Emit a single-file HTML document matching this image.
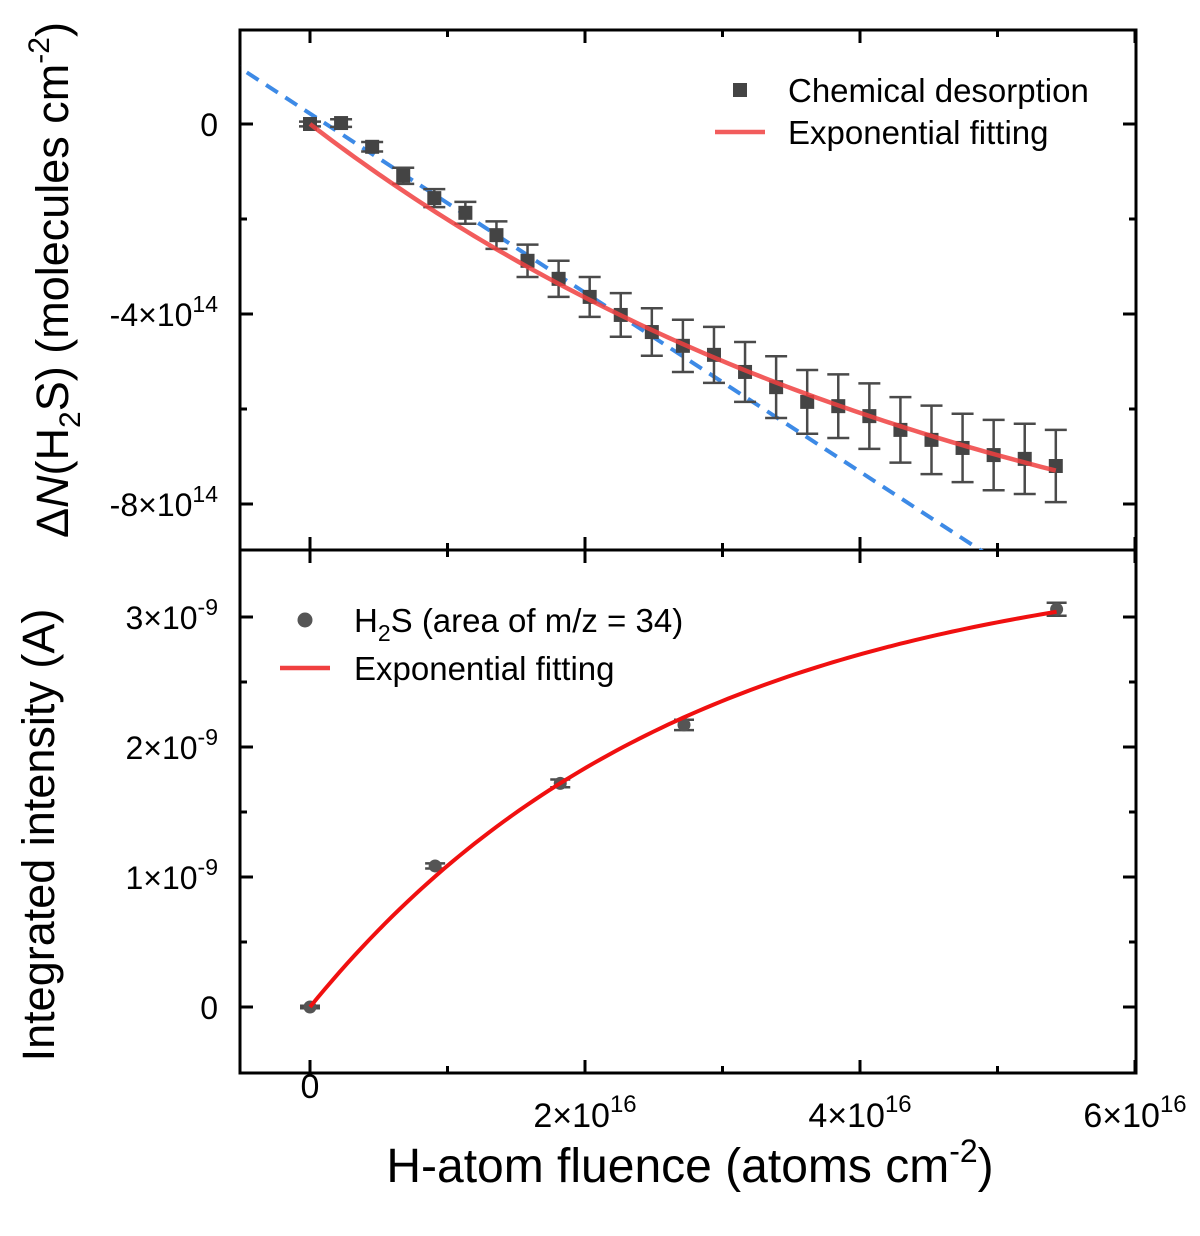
<!DOCTYPE html>
<html><head><meta charset="utf-8"><style>
body{margin:0;background:#fff}
svg text{font-family:"Liberation Sans",Arial,sans-serif;fill:#000}
</style></head><body>
<svg id="c" width="1200" height="1231" xmlns="http://www.w3.org/2000/svg">
<g id="g"></g>
</svg>
<script>
// top panel data (x in 1e16, y in 1e14)
const topX=[0,0.226,0.452,0.678,0.904,1.13,1.356,1.582,1.808,2.034,2.26,2.486,2.712,2.938,3.164,3.39,3.616,3.842,4.068,4.294,4.52,4.746,4.972,5.198,5.424];
const topY=[0,0.02,-0.48,-1.09,-1.56,-1.87,-2.34,-2.88,-3.26,-3.64,-4.02,-4.38,-4.67,-4.86,-5.22,-5.54,-5.85,-5.94,-6.15,-6.44,-6.65,-6.82,-6.97,-7.05,-7.2];
const topErr=[0.05,0.08,0.1,0.17,0.19,0.23,0.29,0.34,0.38,0.42,0.46,0.5,0.55,0.59,0.63,0.65,0.67,0.67,0.69,0.69,0.72,0.72,0.74,0.74,0.76];
const topFit=[10.9,4.9]; // amplitude, tau
const linParams=[0.22,-1.885]; // intercept, slope
// bottom panel (x in 1e16, y in 1e-9)
const botX=[0,0.91,1.82,2.72,5.43];
const botY=[0,1.085,1.72,2.17,3.06];
const botErr=[0.01,0.02,0.03,0.04,0.05];
const botFit=[3.51,2.7];
const xTicks=[0,2,4,6], topTicks=[0,-4,-8], botTicks=[0,1,2,3];

const NS='http://www.w3.org/2000/svg', g=document.getElementById('g');
function el(t,a,p){const e=document.createElementNS(NS,t);for(const k in a)e.setAttribute(k,a[k]);(p||g).appendChild(e);return e;}
const L=240,R=1136,T=30,M=550,B=1073;
const X=v=>310+v*137.5;
const YT=v=>124-v*47.5;
const YB=v=>1007-v*130;

const defs=el('defs',{});
let cp=el('clipPath',{id:'ct'},defs);el('rect',{x:L,y:T,width:R-L,height:M-T},cp);
cp=el('clipPath',{id:'cb'},defs);el('rect',{x:L,y:M,width:R-L,height:B-M},cp);

let e=el('rect',{x:L,y:T,width:R-L,height:M-T,fill:'none',stroke:'#000','stroke-width':3});

e=el('rect',{x:L,y:M,width:R-L,height:B-M,fill:'none',stroke:'#000','stroke-width':3});


for(let v=0;v<=6;v+=1){const x=X(v),len=v%2===0?13:7;
 el('line',{x1:x,x2:x,y1:B,y2:B-len,stroke:'#000','stroke-width':3});
 el('line',{x1:x,x2:x,y1:M,y2:M-len,stroke:'#000','stroke-width':3});
 el('line',{x1:x,x2:x,y1:M,y2:M+len,stroke:'#000','stroke-width':3});
 el('line',{x1:x,x2:x,y1:T,y2:T+len,stroke:'#000','stroke-width':3});}
xTicks.forEach(v=>{const t=el('text',{x:X(v),y:v===0?1098:1127,'font-size':34,'text-anchor':'middle'});
 
 if(v===0)t.textContent='0';else t.innerHTML=v+'×10<tspan dy="-15" font-size="24">16</tspan>';});
for(let v=0;v>=-8;v-=2){const y=YT(v),len=v%4===0?13:7;
 el('line',{x1:L,x2:L+len,y1:y,y2:y,stroke:'#000','stroke-width':3});
 el('line',{x1:R,x2:R-len,y1:y,y2:y,stroke:'#000','stroke-width':3});}
topTicks.forEach(v=>{const t=el('text',{x:218,y:YT(v)+12,'font-size':32,'text-anchor':'end'});
 
 if(v===0)t.textContent='0';else t.innerHTML=v+'×10<tspan dy="-14" font-size="23">14</tspan>';});
for(let v=0;v<=3.01;v+=0.5){const y=YB(v),len=Math.abs(v%1)<0.01?13:7;
 el('line',{x1:L,x2:L+len,y1:y,y2:y,stroke:'#000','stroke-width':3});
 el('line',{x1:R,x2:R-len,y1:y,y2:y,stroke:'#000','stroke-width':3});}
botTicks.forEach(v=>{const t=el('text',{x:218,y:YB(v)+12,'font-size':32,'text-anchor':'end'});
 
 if(v===0)t.textContent='0';else t.innerHTML=v+'×10<tspan dy="-14" font-size="23">-9</tspan>';});

const gt=el('g',{'clip-path':'url(#ct)'});
const x0=-0.6,x1=5.5;
e=el('line',{x1:X(x0),y1:YT(linParams[0]+linParams[1]*x0),x2:X(x1),y2:YT(linParams[0]+linParams[1]*x1),stroke:'#3d8ae6','stroke-width':4,'stroke-dasharray':'14,9'},gt);

topX.forEach((xv,i)=>{const x=X(xv),y=YT(topY[i]),d=topErr[i]*47.5;
 const p=el('g',{stroke:'#4a4a4a','stroke-width':2.5},gt);
 
 el('line',{x1:x,x2:x,y1:y-d,y2:y+d},p);
 el('line',{x1:x-11,x2:x+11,y1:y-d,y2:y-d},p);
 el('line',{x1:x-11,x2:x+11,y1:y+d,y2:y+d},p);
 el('rect',{x:x-7,y:y-7,width:14,height:14,fill:'#444',stroke:'none'},p);});
let pts=[];for(let i=0;i<=100;i++){const xv=5.424*i/100;pts.push(X(xv)+','+YT(-topFit[0]*(1-Math.exp(-xv/topFit[1]))));}
e=el('polyline',{points:pts.join(' '),fill:'none',stroke:'#f04040','stroke-width':4.5,'stroke-opacity':0.85},gt);


const gb=el('g',{'clip-path':'url(#cb)'});
botX.forEach((xv,i)=>{const x=X(xv),y=YB(botY[i]),d=botErr[i]*130;
 const p=el('g',{stroke:'#4a4a4a','stroke-width':2.5},gb);
 
 el('line',{x1:x,x2:x,y1:y-d,y2:y+d},p);
 el('line',{x1:x-10,x2:x+10,y1:y-d,y2:y-d},p);
 el('line',{x1:x-10,x2:x+10,y1:y+d,y2:y+d},p);
 el('circle',{cx:x,cy:y,r:6.5,fill:'#555',stroke:'none'},p);});
pts=[];for(let i=0;i<=100;i++){const xv=5.43*i/100;pts.push(X(xv)+','+YB(botFit[0]*(1-Math.exp(-xv/botFit[1]))));}
e=el('polyline',{points:pts.join(' '),fill:'none',stroke:'#f01010','stroke-width':4},gb);


e=el('rect',{x:733,y:83,width:14,height:14,fill:'#444'});
e=el('text',{x:788,y:102,'font-size':33});e.textContent='Chemical desorption';
e=el('line',{x1:715,x2:765,y1:132,y2:132,stroke:'#f04040','stroke-width':4.5,'stroke-opacity':0.85});
e=el('text',{x:788,y:144,'font-size':33});e.textContent='Exponential fitting';
e=el('circle',{cx:305,cy:620,r:7.5,fill:'#555'});
e=el('text',{x:354,y:632,'font-size':33});e.innerHTML='H<tspan dy="9" font-size="23">2</tspan><tspan dy="-9">S (area of m/z = 34)</tspan>';
e=el('line',{x1:280,x2:330,y1:668,y2:668,stroke:'#f04040','stroke-width':4.5});
e=el('text',{x:354,y:680,'font-size':33});e.textContent='Exponential fitting';

e=el('text',{x:690,y:1182,'font-size':48,'text-anchor':'middle'});e.innerHTML='H-atom fluence (atoms cm<tspan dy="-20" font-size="32">-2</tspan><tspan dy="20">)</tspan>';

e=el('text',{x:0,y:0,'font-size':45,'text-anchor':'middle',transform:'translate(68,280) rotate(-90)'});
e.innerHTML='Δ<tspan font-style="italic">N</tspan>(H<tspan dy="12" font-size="30">2</tspan><tspan dy="-12">S) (molecules cm</tspan><tspan dy="-19" font-size="30">-2</tspan><tspan dy="19">)</tspan>';

e=el('text',{x:0,y:0,'font-size':45,'text-anchor':'middle',transform:'translate(54,835) rotate(-90)'});
e.textContent='Integrated intensity (A)';

</script>
</body></html>
